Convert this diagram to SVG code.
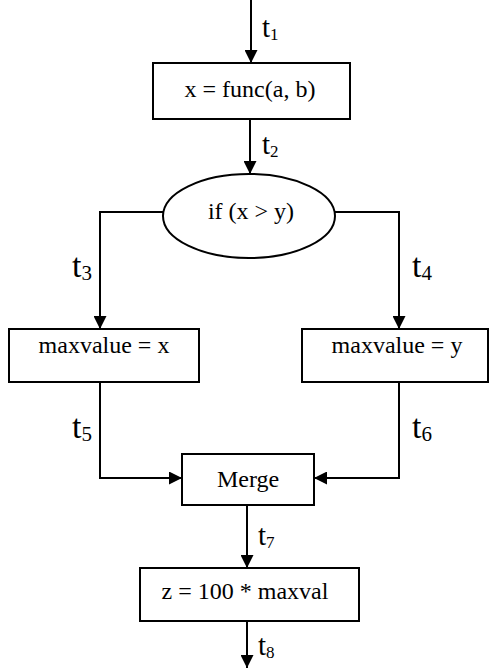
<svg xmlns="http://www.w3.org/2000/svg" width="489" height="668" viewBox="0 0 489 668">
<style>
.box{fill:#fff;stroke:#000;stroke-width:2}
.ln{fill:none;stroke:#000;stroke-width:2}
.t{font-size:24px;text-anchor:middle;font-family:'Liberation Serif','Times New Roman',serif}
.lbl{font-size:29px;font-family:'Liberation Serif','Times New Roman',serif}
.lbl2{font-size:34px;font-family:'Liberation Serif','Times New Roman',serif}
.sub{font-size:17px}
.sub2{font-size:21px}
</style>
<defs>
<marker id="ah" viewBox="0 0 13 13" refX="13" refY="6.5" markerWidth="13" markerHeight="13" markerUnits="userSpaceOnUse" orient="auto">
<path d="M0,0 L13,6.5 L0,13 Z" fill="#000"/>
</marker>
</defs>
<rect width="489" height="668" fill="#fff"/>
<g id="connectors">
<line class="ln" x1="251" y1="0" x2="251" y2="63" marker-end="url(#ah)"/>
<line class="ln" x1="250" y1="119" x2="250" y2="174" marker-end="url(#ah)"/>
<polyline class="ln" points="164,212 100,212 100,329" marker-end="url(#ah)"/>
<polyline class="ln" points="334,212 399,212 399,329" marker-end="url(#ah)"/>
<polyline class="ln" points="100,382 100,478 182,478" marker-end="url(#ah)"/>
<polyline class="ln" points="399,382 399,478 314,478" marker-end="url(#ah)"/>
<line class="ln" x1="247" y1="505" x2="247" y2="568" marker-end="url(#ah)"/>
<line class="ln" x1="247" y1="621" x2="247" y2="668" marker-end="url(#ah)"/>
<text class="lbl" x="262" y="37" font-family="Liberation Serif, serif">t<tspan class="sub" dy="3">1</tspan></text>
<text class="lbl" x="262" y="154" font-family="Liberation Serif, serif">t<tspan class="sub" dy="3">2</tspan></text>
<text class="lbl2" x="72" y="277" font-family="Liberation Serif, serif">t<tspan class="sub2" dy="3">3</tspan></text>
<text class="lbl2" x="412" y="277" font-family="Liberation Serif, serif">t<tspan class="sub2" dy="3">4</tspan></text>
<text class="lbl2" x="72" y="438" font-family="Liberation Serif, serif">t<tspan class="sub2" dy="3">5</tspan></text>
<text class="lbl2" x="412" y="438" font-family="Liberation Serif, serif">t<tspan class="sub2" dy="3">6</tspan></text>
<text class="lbl" x="258" y="545" font-family="Liberation Serif, serif">t<tspan class="sub" dy="3">7</tspan></text>
<text class="lbl" x="258" y="655" font-family="Liberation Serif, serif">t<tspan class="sub" dy="3">8</tspan></text>
</g>
<g id="n_func">
<rect class="box" x="153" y="63" width="197" height="56"/>
<text class="t" x="250" y="97" font-family="Liberation Serif, serif">x = func(a, b)</text>
</g>
<g id="n_if">
<ellipse class="box" cx="249" cy="216" rx="86" ry="42"/>
<text class="t" x="251" y="219" font-family="Liberation Serif, serif">if (x &gt; y)</text>
</g>
<g id="n_maxx">
<rect class="box" x="9" y="329" width="190" height="53"/>
<text class="t" x="104" y="353" font-family="Liberation Serif, serif">maxvalue = x</text>
</g>
<g id="n_maxy">
<rect class="box" x="302" y="329" width="186" height="53"/>
<text class="t" x="397" y="353" font-family="Liberation Serif, serif">maxvalue = y</text>
</g>
<g id="n_merge">
<rect class="box" x="182" y="454" width="132" height="51"/>
<text class="t" x="248" y="487" font-family="Liberation Serif, serif">Merge</text>
</g>
<g id="n_z">
<rect class="box" x="140" y="568" width="219" height="53"/>
<text class="t" x="245" y="599" font-family="Liberation Serif, serif">z = 100 * maxval</text>
</g>
</svg>
